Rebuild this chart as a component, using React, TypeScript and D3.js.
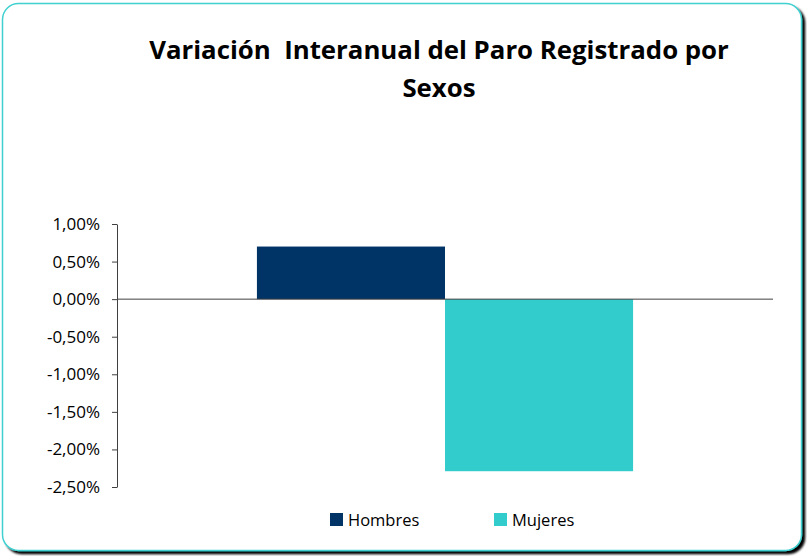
import React, { useEffect, useRef } from "react";
import * as d3 from "d3";

// data
const categories = ["Total"];
const seriesNames = ["Hombres", "Mujeres"];
const seriesValues = [0.7, -2.29];
const seriesColors = ["#003366", "#33CCCC"];
const yTicks = [1, 0.5, 0, -0.5, -1, -1.5, -2, -2.5];

const App = () => {
  const svgRef = useRef<SVGSVGElement>(null);

  useEffect(() => {
    const width = 807;
    const height = 556;
    const marginLeft = 117;
    const marginRight = 34;
    const marginTop = 224;
    const plotBottom = 487;

    const svg = d3.select(svgRef.current);
    svg.selectAll("*").remove();

    const defs = svg.append("defs");
    const f = defs.append("filter").attr("id", "shadow").attr("x", "-5%").attr("y", "-5%").attr("width", "110%").attr("height", "110%");
    f.append("feDropShadow").attr("dx", 3).attr("dy", 3).attr("stdDeviation", 0.8).attr("flood-color", "#000").attr("flood-opacity", 1);

    // card
    svg
      .append("rect")
      .attr("x", 2.5)
      .attr("y", 3.5)
      .attr("width", 799)
      .attr("height", 547)
      .attr("rx", 16)
      .attr("fill", "#fff")
      .attr("stroke", "#40D0D0")
      .attr("stroke-width", 1.5)
      .attr("filter", "url(#shadow)");

    // title
    const title = svg
      .append("text")
      .attr("text-anchor", "middle")
      .attr("font-family", "'Open Sans', sans-serif")
      .attr("font-weight", "bold")
      .attr("font-size", 25.8)
      .attr("fill", "#000");
    title.append("tspan").attr("x", 439).attr("y", 59).attr("xml:space", "preserve").text("Variación  Interanual del Paro Registrado por");
    title.append("tspan").attr("x", 439).attr("y", 97).text("Sexos");

    const y = d3.scaleLinear().domain([-2.5, 1]).range([plotBottom, marginTop]);
    const x0 = d3
      .scaleBand()
      .domain(categories)
      .range([marginLeft, width - marginRight])
      .paddingInner(0)
      .paddingOuter(0.372);
    const x1 = d3.scaleBand().domain(seriesNames).range([0, x0.bandwidth()]);

    const fmt = (v: number) => v.toFixed(2).replace(".", ",") + "%";

    // bars
    const g = svg.append("g");
    categories.forEach((c) => {
      g.selectAll(null)
        .data(seriesNames.map((s, i) => ({ s, v: seriesValues[i], color: seriesColors[i] })))
        .join("rect")
        .attr("x", (d) => x0(c)! + x1(d.s)!)
        .attr("width", x1.bandwidth())
        .attr("y", (d) => y(Math.max(0, d.v)))
        .attr("height", (d) => Math.abs(y(d.v) - y(0)))
        .attr("fill", (d) => d.color);
    });

    // y axis
    svg
      .append("g")
      .attr("transform", `translate(${marginLeft},0)`)
      .call(d3.axisLeft(y).tickValues(yTicks).tickFormat((d) => fmt(d as number)).tickSize(5).tickSizeOuter(0).tickPadding(12))
      .call((a) => a.selectAll("line,path").attr("stroke", "#404040"))
      .call((a) =>
        a.selectAll("text").attr("font-family", "'Open Sans', sans-serif").attr("font-size", 17).attr("fill", "#000")
      );

    // zero line
    svg
      .append("line")
      .attr("x1", marginLeft)
      .attr("x2", width - marginRight)
      .attr("y1", y(0))
      .attr("y2", y(0))
      .attr("stroke", "#404040");

    // legend
    const legend = svg.append("g").attr("font-family", "'Open Sans', sans-serif").attr("font-size", 16.5);
    const lx = [330, 494];
    seriesNames.forEach((s, i) => {
      legend.append("rect").attr("x", lx[i]).attr("y", 513).attr("width", 13).attr("height", 13).attr("fill", seriesColors[i]);
      legend.append("text").attr("x", lx[i] + 18).attr("y", 526).attr("fill", "#000").text(s);
    });
  }, []);

  return (
    <svg
      ref={svgRef}
      width={807}
      height={556}
      style={{ position: "absolute", left: 0, top: 0 }}
    />
  );
};

export default App;
